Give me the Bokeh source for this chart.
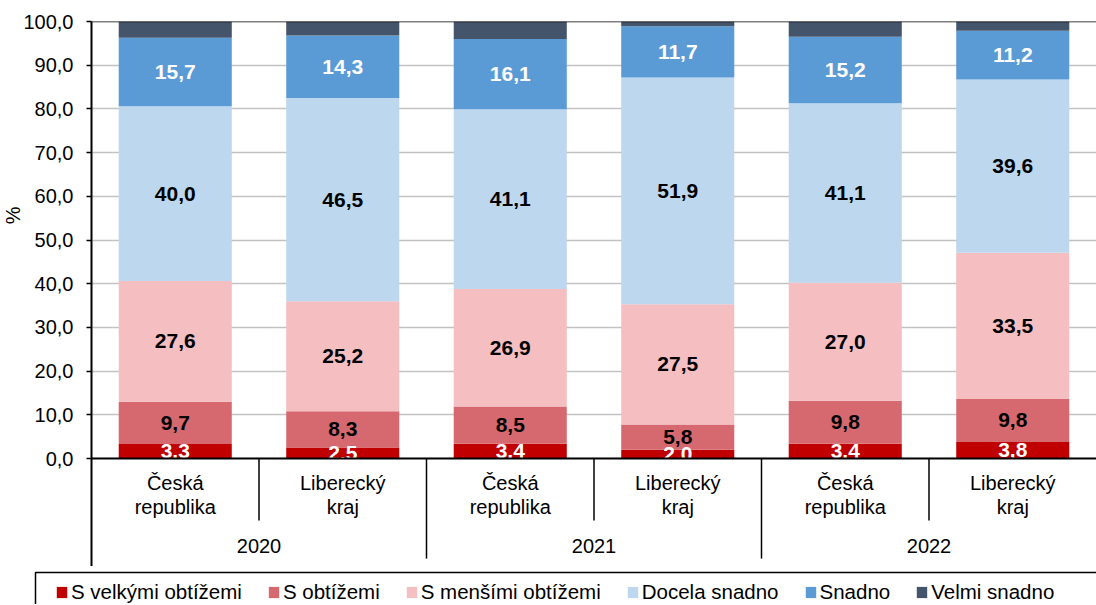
from bokeh.plotting import figure
from bokeh.layouts import column
from bokeh.models import (Range1d, FixedTicker, Legend, LegendItem, Title,
                          ColumnDataSource)
from bokeh.core.properties import value
from bokeh.embed import file_html
from bokeh.resources import INLINE

# ---------------- data ----------------
years = ["2020", "2021", "2022"]
regions = ["Česká\nrepublika", "Liberecký\nkraj"]
series = ["S velkými obtížemi", "S obtížemi", "S menšími obtížemi",
          "Docela snadno", "Snadno", "Velmi snadno"]
s_velkymi = [3.3, 2.5, 3.4, 2.0, 3.4, 3.8]
s_obtizemi = [9.7, 8.3, 8.5, 5.8, 9.8, 9.8]
s_mensimi = [27.6, 25.2, 26.9, 27.5, 27.0, 33.5]
docela = [40.0, 46.5, 41.1, 51.9, 41.1, 39.6]
snadno = [15.7, 14.3, 16.1, 11.7, 15.2, 11.2]
velmi = [3.7, 3.2, 4.0, 1.1, 3.5, 2.1]
y_ticks = [0, 10, 20, 30, 40, 50, 60, 70, 80, 90, 100]

colors = ["#C00000", "#D6696F", "#F5BEC1", "#BDD7EE", "#5B9BD5", "#44546A"]
label_colors = ["white", "black", "black", "black", "white", None]

FONT = "Liberation Sans"
values_list = [s_velkymi, s_obtizemi, s_mensimi, docela, snadno, velmi]
ncat = len(years) * len(regions)
xs = [i + 0.5 for i in range(ncat)]

W = 1096
H_MAIN = 566
H_LEG = 38
TOP = 21
px_per_unit = 4.37
y_start = 100 - (H_MAIN - TOP) / px_per_unit

# ---------------- main chart ----------------
p = figure(width=W, height=H_MAIN, output_backend="svg", toolbar_location=None,
           x_range=Range1d(0, ncat), y_range=Range1d(y_start, 100),
           min_border_left=91, min_border_right=0, min_border_top=TOP,
           min_border_bottom=0)
p.frame_align = False
p.outline_line_color = None
p.xaxis.visible = False
p.xgrid.visible = False

p.yaxis.ticker = FixedTicker(ticks=y_ticks)
p.yaxis.major_label_overrides = {t: f"{t:.1f}".replace(".", ",") for t in y_ticks}
p.yaxis.axis_line_color = "black"
p.yaxis.axis_line_width = 2
p.yaxis.major_tick_line_color = "black"
p.yaxis.major_tick_line_width = 1.5
p.yaxis.major_tick_out = 5
p.yaxis.major_tick_in = 0
p.yaxis.minor_tick_line_color = None
p.yaxis.major_label_text_font = FONT
p.yaxis.major_label_text_font_size = "20px"
p.yaxis.major_label_text_color = "black"
p.yaxis.major_label_standoff = 13

p.add_layout(Title(text="%", align="right", offset=185, vertical_align="middle",
                   text_font=FONT, text_font_size="20px",
                   text_font_style="normal", text_color="black", standoff=-8),
             "left")

p.ygrid.ticker = FixedTicker(ticks=y_ticks)
p.ygrid.grid_line_color = "#C2C2C2"
p.ygrid.grid_line_width = 1.5

data = {"x": xs}
for name, vals in zip(series, values_list):
    data[name] = vals
source = ColumnDataSource(data)

p.vbar_stack(series, x="x", width=0.675, color=colors, line_color=None,
             source=source)

# value labels
bottoms = [0.0] * ncat
for vals, lc in zip(values_list, label_colors):
    centers = [b + v / 2 for b, v in zip(bottoms, vals)]
    if lc is not None:
        txt = [f"{v:.1f}".replace(".", ",") for v in vals]
        p.text(x=xs, y=centers, text=txt, text_align="center",
               text_baseline="middle", text_font=value(FONT),
               text_font_size="21px", text_font_style="bold",
               text_color=lc)
    bottoms = [b + v for b, v in zip(bottoms, vals)]

# mask below the category axis line (labels clipped at the plot area edge)
p.quad(left=[0], right=[ncat], bottom=[-1.2], top=[0], fill_color="white",
       line_color=None)

# axis lines
p.segment(x0=[0], y0=[0], x1=[ncat], y1=[0], line_color="black", line_width=2)
p.segment(x0=[0], y0=[100], x1=[ncat], y1=[100], line_color="black",
          line_width=1.5)

# category axis: separators
short_x = [i for i in range(1, ncat) if i % 2 == 1]
long_x = [i for i in range(2, ncat) if i % 2 == 0]
p.segment(x0=short_x, y0=[0] * len(short_x), x1=short_x,
          y1=[-14.2] * len(short_x), line_color="black", line_width=1.5)
p.segment(x0=long_x, y0=[0] * len(long_x), x1=long_x,
          y1=[-22.9] * len(long_x), line_color="black", line_width=1.5)

line1 = [regions[i % 2].split("\n")[0] for i in range(ncat)]
line2 = [regions[i % 2].split("\n")[1] for i in range(ncat)]
common = dict(text_align="center", text_baseline="middle",
              text_font=value(FONT), text_font_size="20px",
              text_color="black")
p.text(x=xs, y=[-5.7] * ncat, text=line1, **common)
p.text(x=xs, y=[-11.2] * ncat, text=line2, **common)
year_x = [2 * i + 1 for i in range(len(years))]
p.text(x=year_x, y=[-20.1] * len(years), text=years, **common)

# ---------------- legend strip ----------------
q = figure(width=W, height=H_LEG, output_backend="svg", toolbar_location=None,
           x_range=Range1d(0, W), y_range=Range1d(0, H_LEG),
           min_border_left=0, min_border_right=0, min_border_top=0,
           min_border_bottom=0)
q.frame_align = False
q.outline_line_color = None
q.axis.visible = False
q.grid.visible = False
# legend frame
q.quad(left=[35], right=[W + 20], bottom=[-20], top=[H_LEG - 6],
       fill_color=None, line_color="black", line_width=1.5)

leg_renderers = q.vbar_stack(series, x="x", width=0.675, color=colors,
                             line_color=None, source=source, visible=False)
items = [LegendItem(label=n, renderers=[r])
         for n, r in zip(series, leg_renderers)]

legend = Legend(items=items, orientation="horizontal", location=(55, 0))
legend.label_text_font = FONT
legend.label_text_font_size = "20.5px"
legend.label_text_color = "black"
legend.glyph_width = 13
legend.glyph_height = 14
legend.label_standoff = 3
legend.spacing = 25
legend.padding = 6
legend.margin = 0
legend.border_line_color = None
legend.background_fill_alpha = 0
q.add_layout(legend, "center")

layout = column(p, q, spacing=0)
open("out.html", "w").write(file_html(layout, INLINE))
